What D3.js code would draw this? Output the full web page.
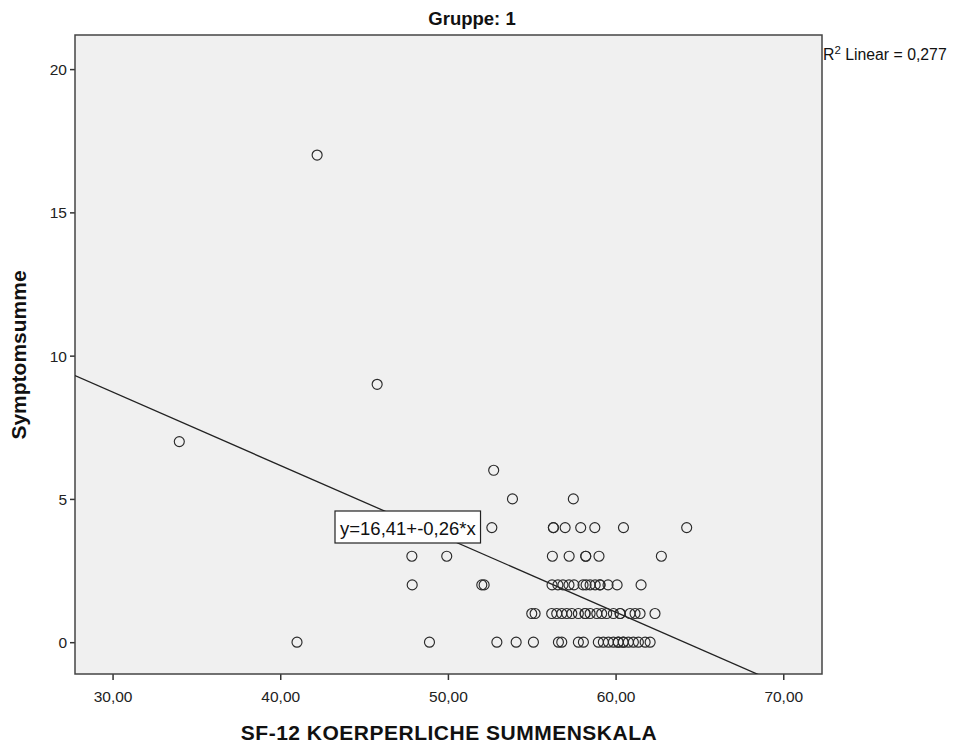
<!DOCTYPE html>
<html>
<head>
<meta charset="utf-8">
<script src="https://cdn.jsdelivr.net/npm/d3@7/dist/d3.min.js"></script>
<style>
  html, body { margin: 0; padding: 0; background: #ffffff; }
  svg { display: block; font-family: "Liberation Sans", Arial, sans-serif; }
</style>
</head>
<body>
<svg id="chart" width="955" height="744"></svg>
<script>
// SF-12 physical summary score (x) vs. symptom sum (y), group 1
const sf12Scores = [
  33.98, 42.20, 45.78, 41.00,
  47.85, 49.93, 47.87, 52.02, 52.16, 48.90,
  52.73, 53.85, 57.48, 52.62,
  56.29, 56.29, 56.99, 57.92, 58.76, 60.47, 64.24,
  56.23, 57.23, 58.22, 58.22, 59.01, 62.73,
  56.21, 56.56, 56.86, 57.22, 57.52, 58.06, 58.24, 58.48, 58.78, 59.07, 59.07, 59.55, 60.09, 61.52,
  55.00, 55.20, 56.19, 56.49, 56.79, 57.09, 57.39, 57.78, 58.18, 58.18, 58.48, 58.88, 59.17, 59.47,
  59.87, 60.27, 60.27, 60.86, 61.16, 61.46, 62.35,
  52.92, 54.07, 55.10, 56.59, 56.79, 57.78, 58.08, 58.97, 59.27, 59.57, 59.87, 60.16, 60.16,
  60.46, 60.46, 60.76, 61.06, 61.36, 61.76, 62.06
];
const symptomSums = [
  7, 17, 9, 0,
  3, 3, 2, 2, 2, 0,
  6, 5, 5, 4,
  4, 4, 4, 4, 4, 4, 4,
  3, 3, 3, 3, 3, 3,
  2, 2, 2, 2, 2, 2, 2, 2, 2, 2, 2, 2, 2, 2,
  1, 1, 1, 1, 1, 1, 1, 1, 1, 1, 1, 1, 1, 1,
  1, 1, 1, 1, 1, 1, 1,
  0, 0, 0, 0, 0, 0, 0, 0, 0, 0, 0, 0, 0,
  0, 0, 0, 0, 0, 0, 0
];

const xTicks = [30, 40, 50, 60, 70];
const yTicks = [0, 5, 10, 15, 20];
const xDomain = [27.76, 72.31];
const yDomain = [-1.11, 21.19];

// Fitted linear regression and its R²
const fitIntercept = 16.41;
const fitSlope = -0.256;
const rSquared = 0.277;

const titleText = "Gruppe: 1";
const xLabel = "SF-12 KOERPERLICHE SUMMENSKALA";
const yLabel = "Symptomsumme";

const de = d3.formatLocale({ decimal: ",", thousands: ".", grouping: [3], currency: ["", " €"], minus: "-" });
const fmt2 = de.format(".2f");
const fmt3 = de.format(".3f");
const fmt0 = de.format("d");

const plot = { left: 75, right: 822, top: 35, bottom: 674 };
const svg = d3.select("#chart");

const x = d3.scaleLinear().domain(xDomain).range([plot.left, plot.right]);
const y = d3.scaleLinear().domain(yDomain).range([plot.bottom, plot.top]);

// plot background
svg.append("rect")
  .attr("x", plot.left).attr("y", plot.top)
  .attr("width", plot.right - plot.left).attr("height", plot.bottom - plot.top)
  .attr("fill", "#f0f0f0");

svg.append("clipPath").attr("id", "plotClip")
  .append("rect")
  .attr("x", plot.left).attr("y", plot.top)
  .attr("width", plot.right - plot.left).attr("height", plot.bottom - plot.top);

// axes
const xAxis = d3.axisBottom(x).tickValues(xTicks).tickFormat(fmt2).tickSize(6).tickSizeOuter(0);
const yAxis = d3.axisLeft(y).tickValues(yTicks).tickFormat(fmt0).tickSize(5).tickSizeOuter(0);

const gx = svg.append("g").attr("transform", `translate(0,${plot.bottom})`).call(xAxis);
const gy = svg.append("g").attr("transform", `translate(${plot.left},0)`).call(yAxis);
[gx, gy].forEach(g => {
  g.select(".domain").remove();
  g.selectAll(".tick line").attr("stroke", "#333").attr("stroke-width", 1.5);
  g.selectAll(".tick text").attr("fill", "#222").style("font-size", "15.5px")
    .style("font-family", "'Liberation Sans', Arial, sans-serif");
});
gx.selectAll(".tick text").attr("dy", "0").attr("y", 28);
gy.selectAll(".tick text").attr("x", -8).attr("dy", "0.36em");

// frame
svg.append("rect")
  .attr("x", plot.left).attr("y", plot.top)
  .attr("width", plot.right - plot.left).attr("height", plot.bottom - plot.top)
  .attr("fill", "none").attr("stroke", "#444").attr("stroke-width", 1.5);

// regression line
const fitLine = d3.line().x(d => x(d)).y(d => y(fitIntercept + fitSlope * d));
svg.append("path")
  .datum(xDomain)
  .attr("clip-path", "url(#plotClip)")
  .attr("d", fitLine)
  .attr("fill", "none").attr("stroke", "#222").attr("stroke-width", 1.3);

// points
const points = sf12Scores.map((v, i) => ({ x: v, y: symptomSums[i] }));
svg.append("g").selectAll("circle").data(points).join("circle")
  .attr("cx", d => x(d.x)).attr("cy", d => y(d.y)).attr("r", 5)
  .attr("fill", "none").attr("stroke", "#2a2a2a").attr("stroke-width", 1.15);

// equation label
const eq = svg.append("g").attr("transform", "translate(335,511)");
const eqBox = eq.append("rect").attr("fill", "#ffffff").attr("stroke", "#222").attr("stroke-width", 1.2);
const eqText = eq.append("text")
  .attr("x", 5).attr("y", 24)
  .style("font-size", "18.5px").attr("fill", "#111")
  .text(`y=${fmt2(fitIntercept)}+${fmt2(fitSlope)}*x`);
const bb = eqText.node().getBBox();
eqBox.attr("width", bb.width + 9).attr("height", 32);

// R² annotation
const r2 = svg.append("text").attr("x", 823).attr("y", 60)
  .style("font-size", "15.8px").attr("fill", "#111");
r2.append("tspan").text("R");
r2.append("tspan").attr("dy", -6).style("font-size", "11.5px").text("2");
r2.append("tspan").attr("dy", 6).text(` Linear = ${fmt3(rSquared)}`);

// title
svg.append("text").attr("x", 472).attr("y", 25).attr("text-anchor", "middle")
  .style("font-size", "18.5px").style("font-weight", "bold").attr("fill", "#111")
  .text(titleText);

// axis titles
svg.append("text").attr("x", 449).attr("y", 740).attr("text-anchor", "middle")
  .style("font-size", "21px").style("font-weight", "bold").attr("fill", "#111")
  .style("letter-spacing", "0.5px")
  .text(xLabel);
svg.append("text").attr("transform", "translate(26,355) rotate(-90)").attr("text-anchor", "middle")
  .style("font-size", "21px").style("font-weight", "bold").attr("fill", "#111")
  .text(yLabel);
</script>
</body>
</html>
